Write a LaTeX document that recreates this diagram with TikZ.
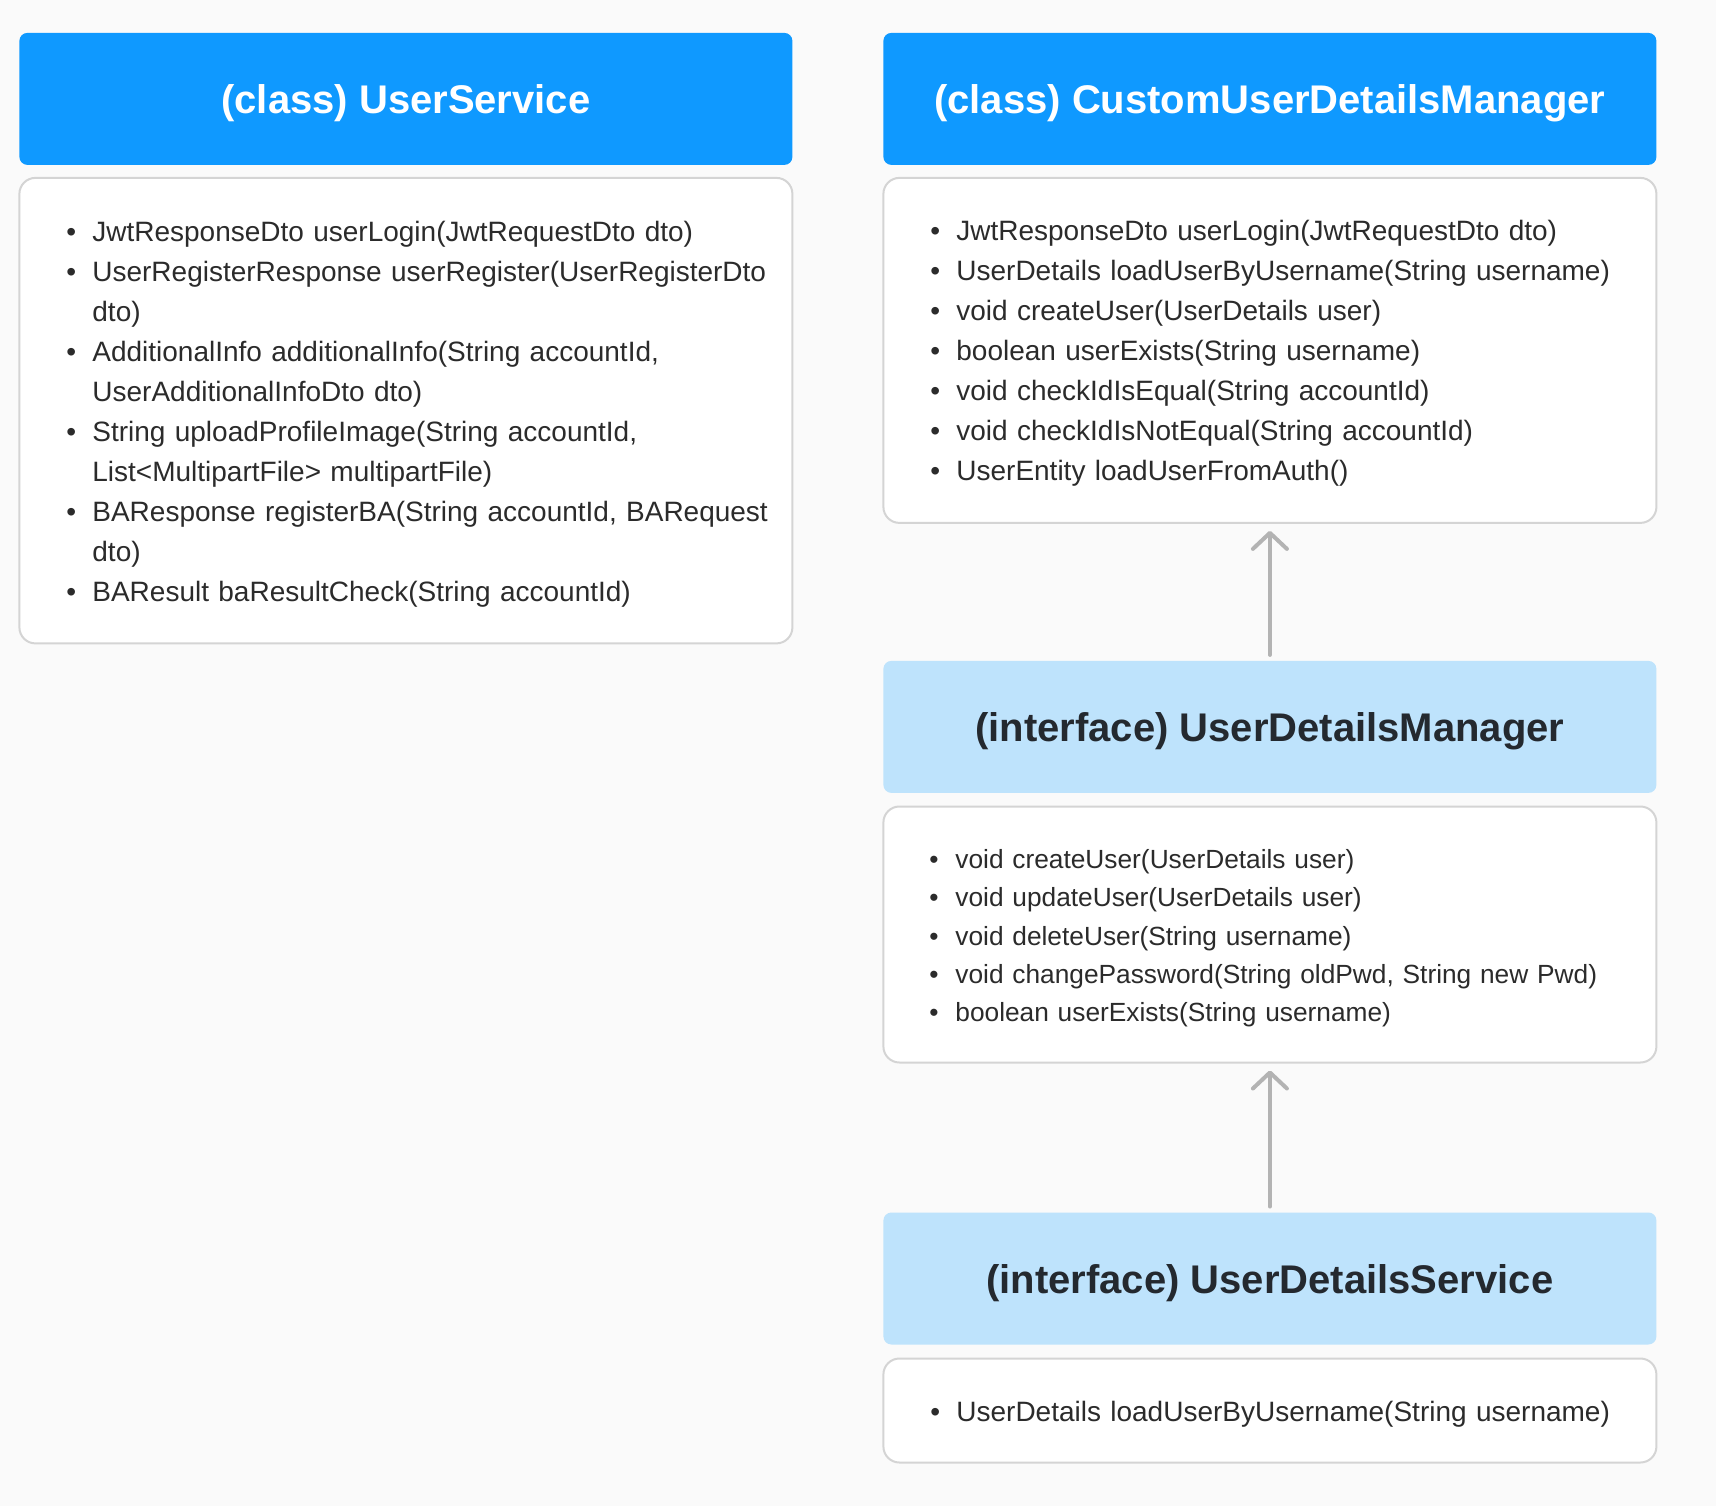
\documentclass[tikz,border=0pt]{standalone}
\usepackage{fontspec}
\setmainfont{Liberation Sans}
\usetikzlibrary{arrows.meta, positioning}
\definecolor{pagebg}{HTML}{FAFAFA}
\definecolor{clsblue}{HTML}{0F99FF}
\definecolor{ifcblue}{HTML}{BEE3FC}
\definecolor{titledark}{HTML}{24292F}
\definecolor{bodytext}{HTML}{2B2B2B}
\definecolor{boxline}{HTML}{D4D4D4}
\definecolor{arrowgray}{HTML}{B3B3B3}
\newcommand{\itm}[1]{\mbox{\makebox[26pt][l]{\textbullet}#1}}
\newcommand{\cnt}[1]{\mbox{\hspace*{26pt}#1}}
\tikzset{
  clshead/.style = {rounded corners=8pt, fill=clsblue, text=white,
                    minimum width=773pt, minimum height=132pt, inner sep=0pt, outer sep=0pt,
                    text depth=0pt, font=\fontsize{40}{48}\selectfont\bfseries},
  ifchead/.style = {rounded corners=8pt, fill=ifcblue, text=titledark,
                    minimum width=773pt, minimum height=132pt, inner sep=0pt, outer sep=0pt,
                    text depth=0pt, font=\fontsize{40}{48}\selectfont\bfseries},
  methods/.style = {draw=boxline, line width=2pt, rounded corners=16pt, fill=white,
                    minimum width=773pt, text width=679pt, inner xsep=47pt, inner ysep=0pt,
                    outer sep=0pt, align=left, text=bodytext, font=\fontsize{28}{40}\selectfont,
                    execute at begin node={\rule{0pt}{27pt}}},
  flow/.style    = {-{Straight Barb[length=16pt, width=34pt, round]}, line width=4pt,
                    draw=arrowgray, line cap=round, shorten >=8pt, shorten <=6pt},
}

\begin{document}
\begin{tikzpicture}[x=1pt, y=-1pt]
    \path[fill=pagebg] (0,0) rectangle (1716,1506);

    % Left column : UserService
    \node[clshead] (usrsvc) at (405.9,98.9) {(class) UserService};
    \node[methods, minimum height=465.5pt, below=13pt of usrsvc] (usrsvcM) {%
      \itm{JwtResponseDto userLogin(JwtRequestDto dto)}\\
      \itm{UserRegisterResponse userRegister(UserRegisterDto}\\
      \cnt{dto)}\\
      \itm{AdditionalInfo additionalInfo(String accountId,}\\
      \cnt{UserAdditionalInfoDto dto)}\\
      \itm{String uploadProfileImage(String accountId,}\\
      \cnt{List<MultipartFile> multipartFile)}\\
      \itm{BAResponse registerBA(String accountId, BARequest}\\
      \cnt{dto)}\\
      \itm{BAResult baResultCheck(String accountId)}};

    % Right column : class -> interfaces
    \node[clshead, right=91pt of usrsvc] (cudm) {(class) CustomUserDetailsManager};
    \node[methods, minimum height=345pt, below=13pt of cudm] (cudmM) {%
      \itm{JwtResponseDto userLogin(JwtRequestDto dto)}\\
      \itm{UserDetails loadUserByUsername(String username)}\\
      \itm{void createUser(UserDetails user)}\\
      \itm{boolean userExists(String username)}\\
      \itm{void checkIdIsEqual(String accountId)}\\
      \itm{void checkIdIsNotEqual(String accountId)}\\
      \itm{UserEntity loadUserFromAuth()}};

    \node[ifchead, below=138pt of cudmM] (udm) {(interface) UserDetailsManager};
    \node[methods, minimum height=256pt, text width=681pt, inner xsep=46pt,
          font=\fontsize{26.3}{38.3}\selectfont, below=13.6pt of udm] (udmM) {%
      \itm{void createUser(UserDetails user)}\\
      \itm{void updateUser(UserDetails user)}\\
      \itm{void deleteUser(String username)}\\
      \itm{void changePassword(String oldPwd, String new Pwd)}\\
      \itm{boolean userExists(String username)}};

    \node[ifchead, below=150pt of udmM] (uds) {(interface) UserDetailsService};
    \node[methods, minimum height=104pt, below=14pt of uds] (udsM) {%
      \itm{UserDetails loadUserByUsername(String username)}};

    \draw[flow] (udm) -- (cudmM);
    \draw[flow] (uds) -- (udmM);
\end{tikzpicture}
\end{document}
